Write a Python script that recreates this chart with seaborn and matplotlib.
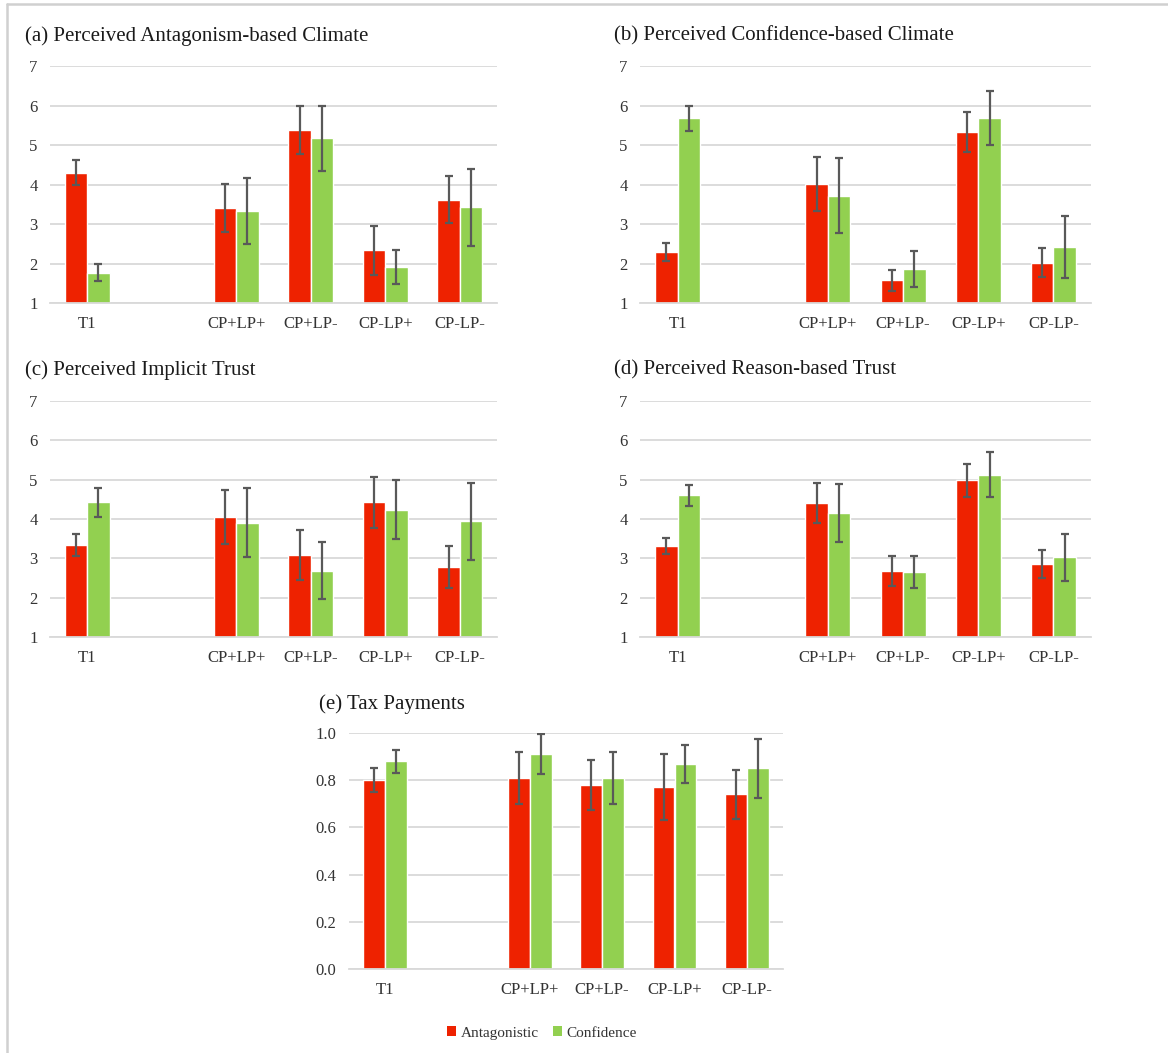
import matplotlib.pyplot as plt
import pandas as pd
import seaborn as sns
from matplotlib.lines import Line2D
from matplotlib.patches import Patch

conditions = ['T1', '', 'CP+LP+', 'CP+LP-', 'CP-LP+', 'CP-LP-']
present = ['T1', 'CP+LP+', 'CP+LP-', 'CP-LP+', 'CP-LP-']
groups = ['Antagonistic', 'Confidence']
colors = ['#EE2200', '#92D050']

titles = [
    '(a) Perceived Antagonism-based Climate',
    '(b) Perceived Confidence-based Climate',
    '(c) Perceived Implicit Trust',
    '(d) Perceived Reason-based Trust',
    '(e) Tax Payments',
]

antag_a = [4.30, 3.41, 5.38, 2.34, 3.62]
antag_a_err = [0.32, 0.60, 0.61, 0.62, 0.60]
conf_a = [1.77, 3.33, 5.17, 1.90, 3.42]
conf_a_err = [0.22, 0.83, 0.82, 0.43, 0.98]

antag_b = [2.29, 4.02, 1.57, 5.33, 2.02]
antag_b_err = [0.23, 0.68, 0.27, 0.51, 0.36]
conf_b = [5.68, 3.71, 1.86, 5.68, 2.42]
conf_b_err = [0.32, 0.95, 0.45, 0.68, 0.78]

antag_c = [3.34, 4.05, 3.08, 4.42, 2.78]
antag_c_err = [0.29, 0.68, 0.63, 0.66, 0.53]
conf_c = [4.42, 3.91, 2.69, 4.24, 3.94]
conf_c_err = [0.37, 0.87, 0.72, 0.75, 0.97]

antag_d = [3.31, 4.40, 2.68, 4.98, 2.85]
antag_d_err = [0.21, 0.51, 0.38, 0.42, 0.35]
conf_d = [4.60, 4.16, 2.66, 5.13, 3.03]
conf_d_err = [0.26, 0.74, 0.41, 0.58, 0.60]

antag_e = [0.80, 0.81, 0.78, 0.77, 0.74]
antag_e_err = [0.05, 0.11, 0.105, 0.14, 0.105]
conf_e = [0.88, 0.91, 0.81, 0.87, 0.85]
conf_e_err = [0.05, 0.085, 0.11, 0.08, 0.125]

panels = [
    (antag_a, antag_a_err, conf_a, conf_a_err),
    (antag_b, antag_b_err, conf_b, conf_b_err),
    (antag_c, antag_c_err, conf_c, conf_c_err),
    (antag_d, antag_d_err, conf_d, conf_d_err),
    (antag_e, antag_e_err, conf_e, conf_e_err),
]

sns.set_style('white')
plt.rcParams['font.family'] = ['Liberation Serif', 'DejaVu Serif']

W, H = 1168, 1053
fig = plt.figure(figsize=(W / 100, H / 100), dpi=100)

# axes boxes in pixels: left, top, right, bottom
boxes = [
    (50, 66, 497, 303),
    (640, 66, 1091, 303),
    (50, 401, 497, 637),
    (640, 401, 1091, 637),
    (349, 733, 783, 969),
]
title_pos = [(25, 36), (614, 36), (25, 370), (614, 370), (319, 704)]

for i, (box, vals) in enumerate(zip(boxes, panels)):
    l, t, r, b = box
    ax = fig.add_axes([l / W, 1 - b / H, (r - l) / W, (b - t) / H])
    a_mean, a_err, c_mean, c_err = vals
    df = pd.DataFrame({
        'cond': present * 2,
        'group': [groups[0]] * 5 + [groups[1]] * 5,
        'mean': a_mean + c_mean,
        'err': a_err + c_err,
    })
    sns.barplot(data=df, x='cond', y='mean', hue='group', order=conditions,
                hue_order=groups, palette=colors, errorbar=None, width=0.6,
                saturation=1, legend=False, ax=ax)
    lookup = df.set_index(['cond', 'group'])['err']
    for cont, g in zip(ax.containers, groups):
        for bar in cont:
            xc = bar.get_x() + bar.get_width() / 2
            cond = conditions[int(round(xc))]
            ax.errorbar(xc, bar.get_height(), yerr=lookup[(cond, g)],
                        color='#595959', lw=1.6, capsize=3, capthick=1.6,
                        zorder=3)

    if i < 4:
        ax.set_ylim(1, 7)
        ax.set_yticks(range(1, 8))
    else:
        ax.set_ylim(0, 1)
        ax.set_yticks([0, 0.2, 0.4, 0.6, 0.8, 1.0])
        ax.set_yticklabels([f'{v:.1f}' for v in [0, 0.2, 0.4, 0.6, 0.8, 1.0]])
    ax.set_xlim(-0.5, 5.5)
    ax.set_xlabel('')
    ax.set_ylabel('')
    ax.yaxis.grid(True, color='#D9D9D9', lw=1.3)
    ax.set_axisbelow(True)
    for s in ['top', 'right', 'left']:
        ax.spines[s].set_visible(False)
    ax.spines['bottom'].set_color('#D9D9D9')
    ax.spines['bottom'].set_linewidth(1.3)
    ax.tick_params(axis='both', length=0, labelsize=12, colors='#333333', pad=9)

    tx, ty = title_pos[i]
    fig.text(tx / W, 1 - ty / H, titles[i], fontsize=15, color='#1a1a1a',
             ha='left', va='center')

handles = [Patch(facecolor=c, edgecolor='none') for c in colors]
fig.legend(handles, groups, loc='center', bbox_to_anchor=(542 / W, 1 - 1033 / H),
           ncol=2, frameon=False, fontsize=11, handlelength=0.6, handleheight=0.6,
           handletextpad=0.3, columnspacing=0.9, labelcolor='#333333')

# light frame lines at top and left
fig.add_artist(Line2D([7 / W, 1], [1 - 3.5 / H, 1 - 3.5 / H], color='#D0D0D0',
                      lw=1.8, transform=fig.transFigure))
fig.add_artist(Line2D([7 / W, 7 / W], [0, 1 - 3.5 / H], color='#D0D0D0',
                      lw=1.8, transform=fig.transFigure))

fig.savefig('out.png', dpi=100)
